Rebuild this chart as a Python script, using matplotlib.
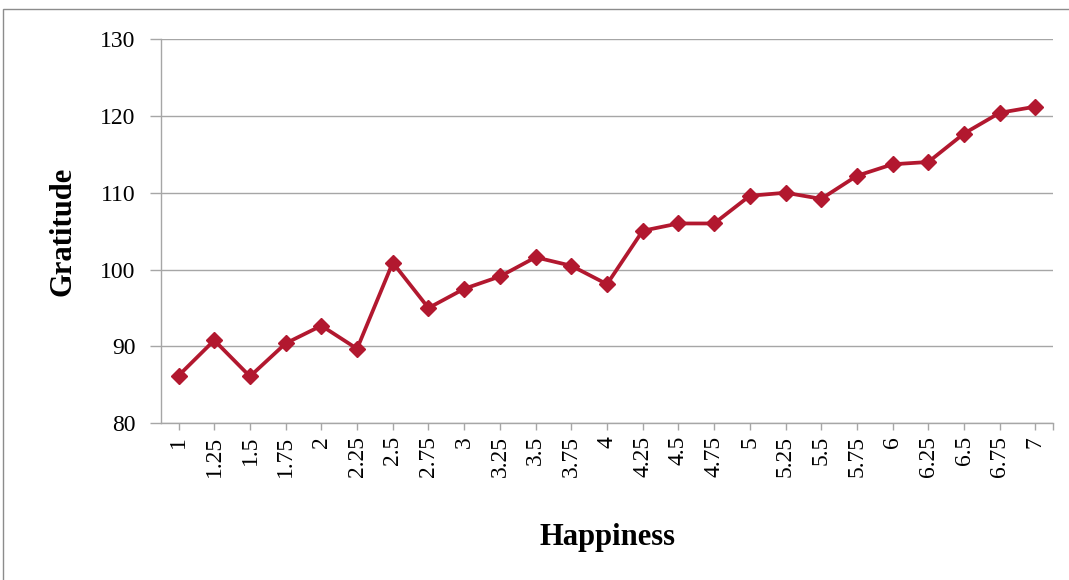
import matplotlib
matplotlib.use("Agg")
import matplotlib.pyplot as plt
from matplotlib.patches import Rectangle

happiness = ["1", "1.25", "1.5", "1.75", "2", "2.25", "2.5", "2.75", "3", "3.25",
             "3.5", "3.75", "4", "4.25", "4.5", "4.75", "5", "5.25", "5.5", "5.75",
             "6", "6.25", "6.5", "6.75", "7"]
gratitude = [86.2, 90.8, 86.1, 90.4, 92.7, 89.7, 100.9, 95.0, 97.5, 99.1,
             101.6, 100.5, 98.1, 105.05, 106.0, 106.0, 109.6, 110.0, 109.2, 112.2,
             113.7, 114.0, 117.7, 120.4, 121.2]
y_ticks = [80, 90, 100, 110, 120, 130]

W, H = 1069, 580
fig = plt.figure(figsize=(W / 100, H / 100), dpi=100)
plt.rcParams["font.family"] = ["Liberation Serif", "DejaVu Serif"]

# chart-area border
fig.patches.append(Rectangle((3 / W, -0.05), 1.2, 1 - 9 / H + 0.05,
                             transform=fig.transFigure, fill=False,
                             edgecolor="#8c8c8c", linewidth=1.0, zorder=0))

left, right, top, bottom = 160.7, 1053.3, 39.0, 423.3
ax = fig.add_axes([left / W, 1 - bottom / H, (right - left) / W, (bottom - top) / H])

grid_color = "#a6a6a6"
x = list(range(len(happiness)))
ax.plot(x, gratitude, color="#b2182f", linewidth=2.7, marker="D",
        markersize=8.5, markeredgecolor="#b2182f", zorder=3, clip_on=False)

ax.set_xlim(-0.5, len(happiness) - 0.5)
ax.set_ylim(80, 130)
ax.set_yticks(y_ticks)
ax.yaxis.grid(True, color=grid_color, linewidth=1.0)
ax.set_axisbelow(True)

ax.set_xticks(x)
ax.set_xticklabels(happiness, rotation=90, fontsize=17)
ax.set_xticks([len(happiness) - 0.5], minor=True)
ax.tick_params(axis="x", which="both", direction="out", length=5, width=1,
               color=grid_color, pad=4)
ax.tick_params(axis="y", direction="out", length=8, width=1, color=grid_color,
               labelsize=17, pad=10)

for side in ("top", "right"):
    ax.spines[side].set_visible(False)
for side in ("left", "bottom"):
    ax.spines[side].set_color(grid_color)
    ax.spines[side].set_linewidth(1.0)

ax.set_xlabel("Happiness", fontsize=22, fontweight="bold")
ax.xaxis.set_label_coords(0.5, (bottom - 537) / (bottom - top))
ax.xaxis.label.set_va("center")
ax.set_ylabel("Gratitude", fontsize=22, fontweight="bold")
ax.yaxis.set_label_coords((63 - left) / (right - left), 0.5)
ax.yaxis.label.set_va("center")

fig.savefig("out.png", dpi=100)
